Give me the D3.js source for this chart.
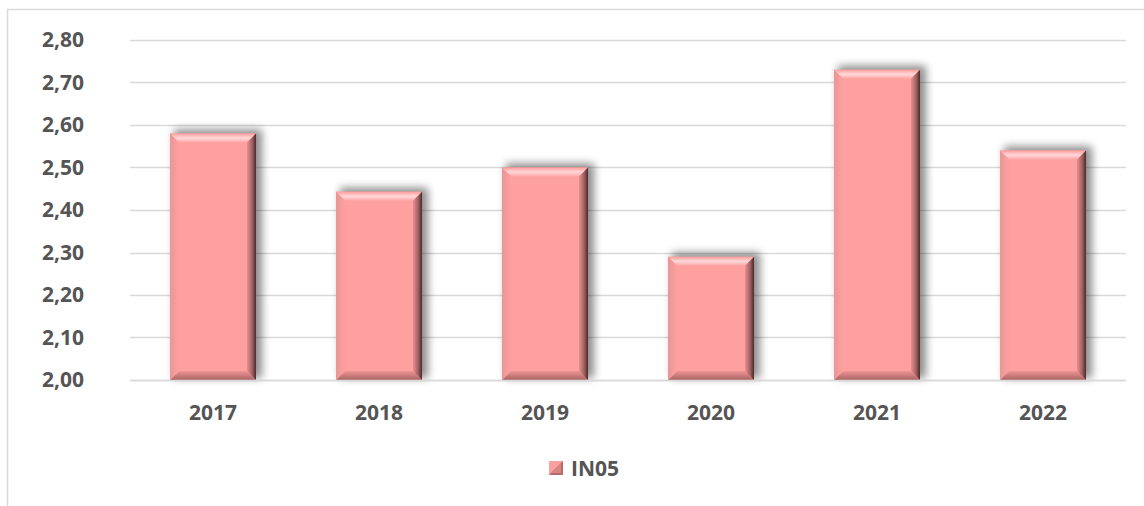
<!DOCTYPE html>
<html><head><meta charset="utf-8">
<script src="https://cdn.jsdelivr.net/npm/d3@7"></script>
<style>body{margin:0;background:#fff}svg{display:block}</style>
</head><body><svg id="c" width="1144" height="506"></svg>
<script>
const categories = ["2017","2018","2019","2020","2021","2022"];
const values = [2.58, 2.443, 2.50, 2.29, 2.73, 2.54];
const yTicks = [2.0, 2.1, 2.2, 2.3, 2.4, 2.5, 2.6, 2.7, 2.8];
const seriesName = "IN05";

(function(){
const svg = d3.select("#c");
const pL = 130, pR = 1126, pT = 40, pB = 380;
const font = "'Open Sans', 'Liberation Sans', sans-serif";
const textCol = "#555555";

// chart border
svg.append("rect").attr("x",7.5).attr("y",9.5).attr("width",1200).attr("height",600)
  .attr("fill","none").attr("stroke","#d9d9d9").attr("stroke-width",1.5);

const x = d3.scaleBand().domain(categories).range([pL,pR]).paddingInner(0.482).paddingOuter(0.241);
const y = d3.scaleLinear().domain([2.0,2.8]).range([pB,pT]);

const defs = svg.append("defs");
const f = defs.append("filter").attr("id","sh").attr("x","-30%").attr("y","-30%").attr("width","160%").attr("height","160%");
f.append("feGaussianBlur").attr("stdDeviation",4);

const gTop = defs.append("linearGradient").attr("id","gTop").attr("x1",0).attr("y1",0).attr("x2",0).attr("y2",1);
gTop.append("stop").attr("offset",0).attr("stop-color","#ff9c9c");
gTop.append("stop").attr("offset",0.5).attr("stop-color","#ffd8d8");
gTop.append("stop").attr("offset",1).attr("stop-color","#ffa6a6");
const gBot = defs.append("linearGradient").attr("id","gBot").attr("x1",0).attr("y1",0).attr("x2",0).attr("y2",1);
gBot.append("stop").attr("offset",0).attr("stop-color","#ef9494");
gBot.append("stop").attr("offset",1).attr("stop-color","#a86464");
const gRight = defs.append("linearGradient").attr("id","gRight").attr("x1",0).attr("y1",0).attr("x2",1).attr("y2",0);
gRight.append("stop").attr("offset",0).attr("stop-color","#e89090");
gRight.append("stop").attr("offset",0.6).attr("stop-color","#9c5e5e");
gRight.append("stop").attr("offset",1).attr("stop-color","#4a2828");
const gLeft = defs.append("linearGradient").attr("id","gLeft").attr("x1",0).attr("y1",0).attr("x2",1).attr("y2",0);
gLeft.append("stop").attr("offset",0).attr("stop-color","#e89696");
gLeft.append("stop").attr("offset",1).attr("stop-color","#ff9f9f");

// gridlines
svg.append("g").selectAll("line").data(yTicks).join("line")
  .attr("x1",pL).attr("x2",pR).attr("y1",d=>Math.round(y(d))+0.5).attr("y2",d=>Math.round(y(d))+0.5)
  .attr("stroke","#d9d9d9").attr("stroke-width",1.3);

// y axis labels
const yAxis = d3.axisLeft(y).tickValues(yTicks).tickSize(0).tickPadding(0)
  .tickFormat(d => d3.format(".2f")(d).replace(".",","));
const ya = svg.append("g").attr("transform",`translate(84,0)`).call(yAxis);
ya.select(".domain").remove();
ya.selectAll("text").attr("font-family",font).attr("font-size",21).attr("font-weight","bold").attr("fill",textCol);

// x axis labels
const xAxis = d3.axisBottom(x).tickSize(0).tickPadding(0);
const xa = svg.append("g").attr("transform",`translate(0,${pB+25})`).call(xAxis);
xa.select(".domain").remove();
xa.selectAll("text").attr("font-family",font).attr("font-size",21).attr("font-weight","bold").attr("fill",textCol);

// bars
const b = 9;
const bars = svg.append("g").selectAll("g").data(categories.map((c,i)=>({c,v:values[i]}))).join("g");
bars.each(function(d){
  const g = d3.select(this);
  const x0 = x(d.c), w = x.bandwidth(), y0 = y(d.v), h = pB - y0;
  g.append("rect").attr("x",x0+4).attr("y",y0-4).attr("width",w+2).attr("height",h+2)
    .attr("fill","#000").attr("opacity",0.45).attr("filter","url(#sh)");
  g.append("rect").attr("x",x0).attr("y",y0).attr("width",w).attr("height",h).attr("fill","#ffa0a0");
  const x1 = x0 + w, y1 = pB;
  g.append("polygon").attr("points",[[x0,y0],[x1,y0],[x1-b,y0+b],[x0+b,y0+b]].join(" ")).attr("fill","url(#gTop)");
  g.append("polygon").attr("points",[[x0,y1],[x1,y1],[x1-b,y1-b],[x0+b,y1-b]].join(" ")).attr("fill","url(#gBot)");
  g.append("polygon").attr("points",[[x0,y0],[x0+b,y0+b],[x0+b,y1-b],[x0,y1]].join(" ")).attr("fill","url(#gLeft)");
  g.append("polygon").attr("points",[[x1,y0],[x1-b,y0+b],[x1-b,y1-b],[x1,y1]].join(" ")).attr("fill","url(#gRight)");
});

// baseline
svg.append("line").attr("x1",pL).attr("x2",pR).attr("y1",pB+0.5).attr("y2",pB+0.5)
  .attr("stroke","#d9d9d9").attr("stroke-width",1.3);

// legend
const lg = svg.append("g").attr("transform","translate(549,461)");
lg.append("rect").attr("width",14).attr("height",14).attr("fill","#ffa0a0");
lg.append("polygon").attr("points","0,14 14,0 14,14").attr("fill","#b86a6a");
lg.append("polygon").attr("points","2,12 12,2 12,12").attr("fill","#d88585");
lg.append("text").attr("x",22).attr("y",15).attr("font-family",font).attr("font-size",21)
  .attr("font-weight","bold").attr("fill",textCol).text(seriesName);
})();
</script></body></html>
